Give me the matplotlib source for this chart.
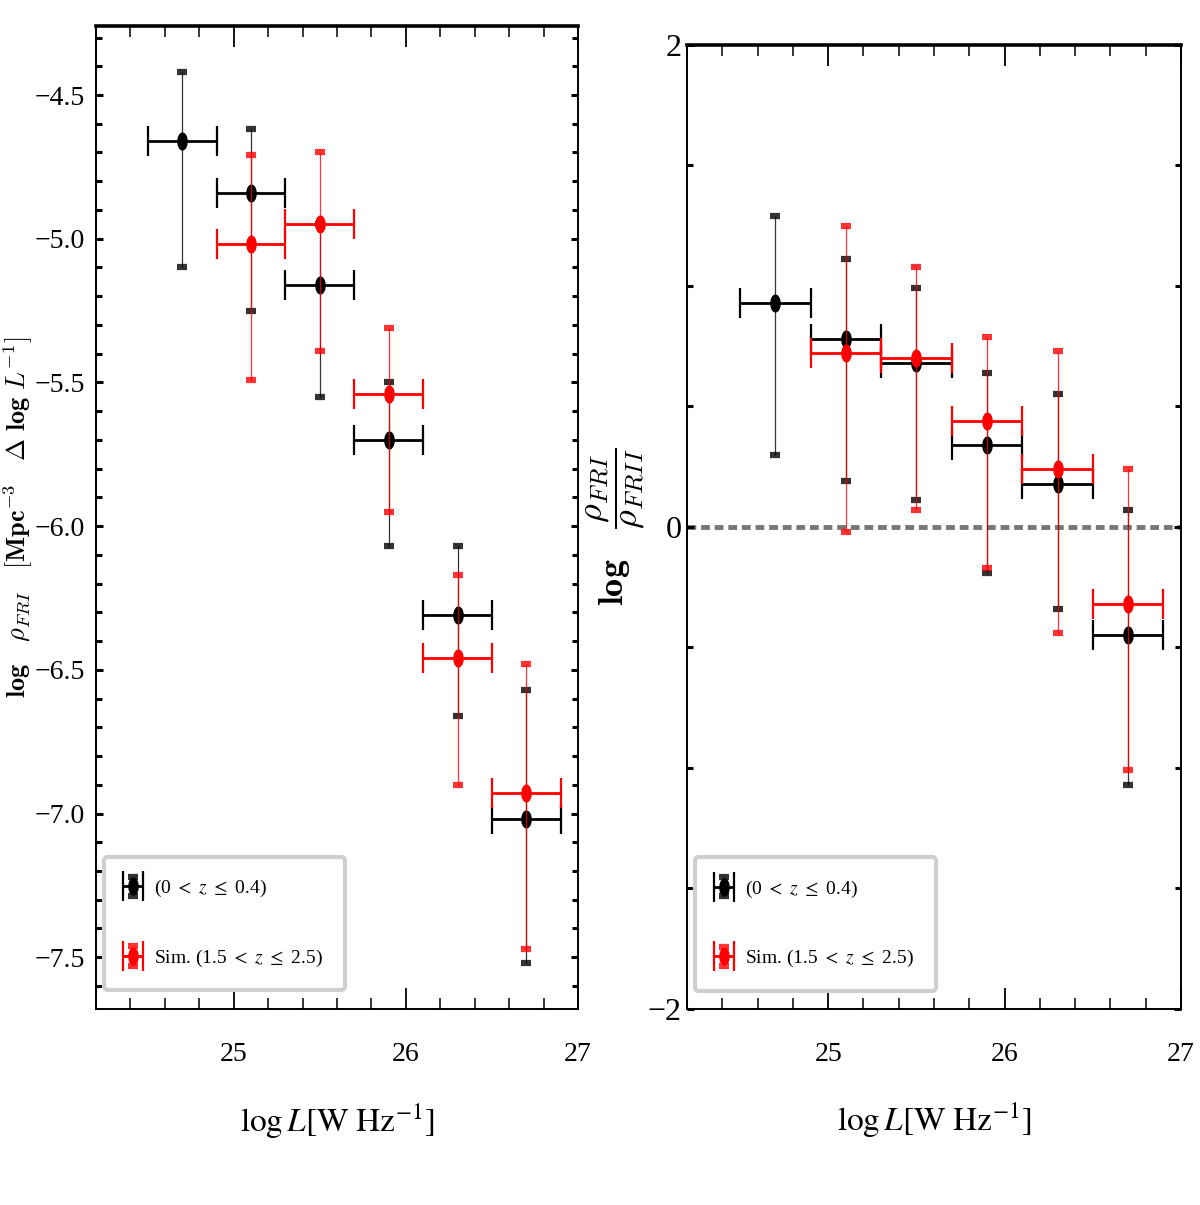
import numpy as np
import matplotlib
matplotlib.use("Agg")
import matplotlib.pyplot as plt
from matplotlib.ticker import MultipleLocator

plt.rcParams['font.family'] = ['Liberation Serif', 'DejaVu Serif']
plt.rcParams['mathtext.fontset'] = 'stix'

# luminosity bins (centre, half width)
logL = np.array([24.7, 25.1, 25.5, 25.9, 26.3, 26.7])
dlogL = 0.2

# left: FRI space density, low-z sample (black)
rho_lo = np.array([-4.66, -4.84, -5.16, -5.70, -6.31, -7.02])
rho_lo_up = np.array([0.24, 0.22, 0.21, 0.20, 0.24, 0.45])
rho_lo_dn = np.array([0.44, 0.41, 0.39, 0.37, 0.35, 0.50])

# left: simulated high-z (red), first bin missing
logL_sim = logL[1:]
rho_sim = np.array([-5.02, -4.95, -5.54, -6.46, -6.93])
rho_sim_up = np.array([0.31, 0.25, 0.23, 0.29, 0.45])
rho_sim_dn = np.array([0.47, 0.44, 0.41, 0.44, 0.54])

# right: log FRI / FRII ratio
rat_lo = np.array([0.93, 0.78, 0.68, 0.34, 0.18, -0.45])
rat_lo_up = np.array([0.36, 0.33, 0.31, 0.30, 0.37, 0.52])
rat_lo_dn = np.array([0.63, 0.59, 0.57, 0.53, 0.52, 0.62])

rat_sim = np.array([0.72, 0.70, 0.44, 0.24, -0.32])
rat_sim_up = np.array([0.53, 0.38, 0.35, 0.49, 0.56])
rat_sim_dn = np.array([0.74, 0.63, 0.61, 0.68, 0.69])

labels = [r'(0 $<\ z\ \leq$ 0.4)', r'Sim. (1.5 $<\ z\ \leq$ 2.5)']

t = np.linspace(0, 2 * np.pi, 41)
ellipse = np.column_stack([0.55 * np.cos(t), np.sin(t)])


def plot_series(ax, x, y, up, dn, color, z):
    hy = ax.errorbar(x, y, yerr=[dn, up], fmt='none', ecolor=color, elinewidth=0.9,
                     capsize=3.8, capthick=4.5, alpha=0.8, zorder=z)
    hx = ax.errorbar(x, y, xerr=dlogL, fmt='none', ecolor=color, elinewidth=2.0,
                     capsize=11, capthick=1.6, zorder=z + 0.5)
    hm, = ax.plot(x, y, ls='none', marker=ellipse, ms=12, color=color, zorder=z + 1)
    return (hy, hx, hm)


def style(ax):
    ax.set_xlim(24.2, 27)
    ax.xaxis.set_major_locator(MultipleLocator(1))
    ax.xaxis.set_minor_locator(MultipleLocator(0.2))
    ax.tick_params(axis='x', which='major', direction='in', length=15, width=1.3,
                   top=True, labelsize=20, pad=24)
    ax.tick_params(axis='x', which='minor', direction='in', length=8, width=1.1, top=True)
    ax.tick_params(axis='y', which='major', direction='in', length=5, width=2.2,
                   right=True, labelsize=20, pad=8)
    ax.tick_params(axis='y', which='minor', direction='in', length=4, width=2.2, right=True)
    for s in ['left', 'right', 'bottom']:
        ax.spines[s].set_linewidth(1.4)
    ax.spines['top'].set_linewidth(2.6)
    ax.set_xlabel(r'$\log L\left[\mathrm{W\ Hz}^{-1}\right]$', fontsize=24)
    ax.xaxis.set_label_coords(0.5, -0.095)


def legend(ax, handles):
    leg = ax.legend(handles, labels, loc='lower left', bbox_to_anchor=(0.016, 0.019),
                    fontsize=14, frameon=True, fancybox=True, framealpha=1,
                    edgecolor='#cfcfcf', handlelength=0.8, handletextpad=0.7,
                    labelspacing=2.5, borderpad=1.1, borderaxespad=0)
    leg.get_frame().set_linewidth(3)


fig = plt.figure(figsize=(12, 12.05), dpi=100)
ax1 = fig.add_axes([0.08, 0.1627, 0.4017, 0.8157])
ax2 = fig.add_axes([0.5725, 0.1627, 0.4117, 0.80])

# left panel
h1 = plot_series(ax1, logL, rho_lo, rho_lo_up, rho_lo_dn, 'black', 2)
h2 = plot_series(ax1, logL_sim, rho_sim, rho_sim_up, rho_sim_dn, 'red', 4)
style(ax1)
ax1.set_ylim(-7.68, -4.26)
ax1.yaxis.set_minor_locator(MultipleLocator(0.1))
ax1.set_yticks([-7.5, -7.0, -6.5, -6.0, -5.5, -5.0, -4.5])
ax1.set_yticklabels(['\u22127.5', '\u22127.0', '\u22126.5', '\u22126.0',
                     '\u22125.5', '\u22125.0', '\u22124.5'])
ax1.set_ylabel(r'$\mathbf{log}\quad\rho_{FRI}\quad[\mathbf{Mpc}^{-3}\quad\Delta\ \mathbf{log}\ L^{-1}]$',
               fontsize=19, math_fontfamily='cm')
ax1.yaxis.set_label_coords(-0.127, 0.5)
legend(ax1, [h1, h2])

# right panel
ax2.axhline(0, color='#777777', lw=3.5, ls=(0, (1.8, 1.0)), zorder=1)
g1 = plot_series(ax2, logL, rat_lo, rat_lo_up, rat_lo_dn, 'black', 2)
g2 = plot_series(ax2, logL_sim, rat_sim, rat_sim_up, rat_sim_dn, 'red', 4)
style(ax2)
ax2.set_ylim(-2, 2)
ax2.set_yticks([-2, 0, 2])
ax2.set_yticklabels(['\u22122', '0', '2'])
ax2.yaxis.set_minor_locator(MultipleLocator(0.5))
ax2.tick_params(axis='y', which='major', labelsize=23, pad=4)
ax2.set_ylabel(r'$\mathbf{log}\quad\dfrac{\rho_{FRI}}{\rho_{FRII}}$', fontsize=26,
               math_fontfamily='cm')
ax2.yaxis.set_label_coords(-0.08, 0.5)
legend(ax2, [g1, g2])

fig.savefig('out.png', dpi=100)
